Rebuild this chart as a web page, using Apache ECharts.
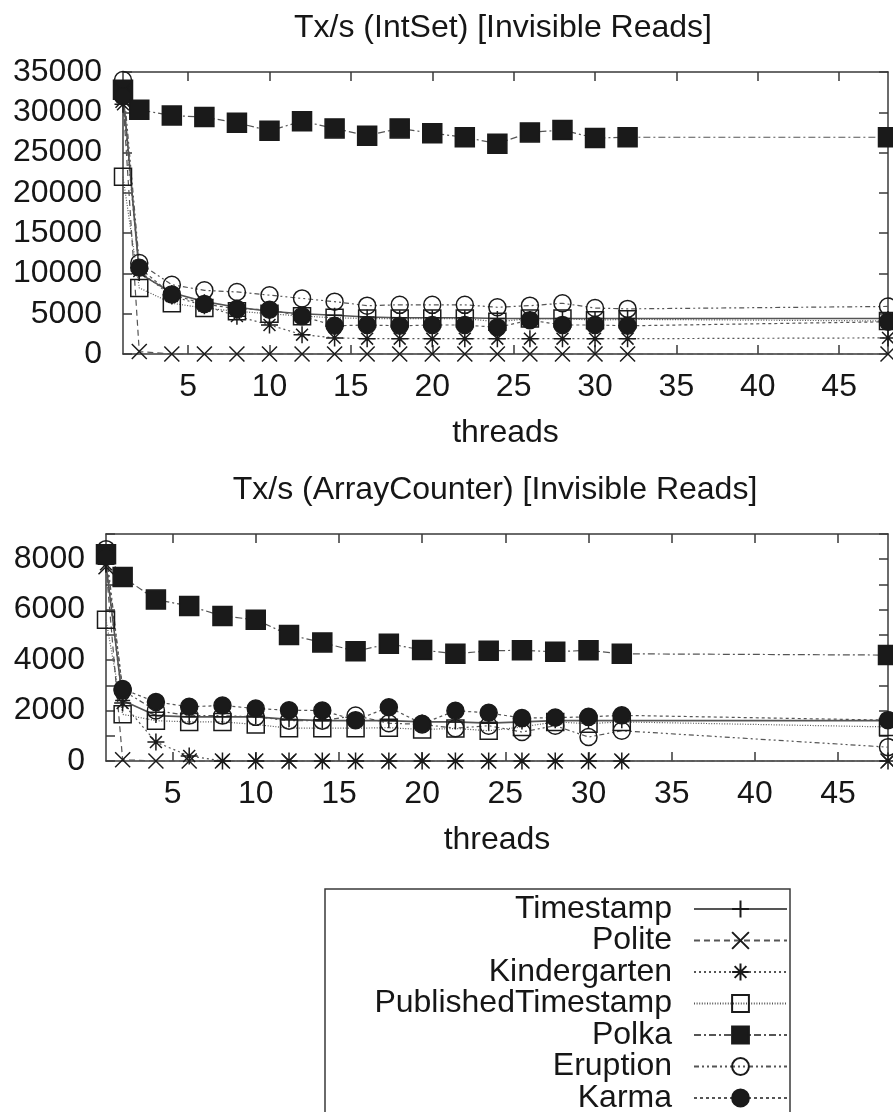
<!DOCTYPE html>
<html><head><meta charset="utf-8">
<script src="https://cdn.jsdelivr.net/npm/echarts@6/dist/echarts.min.js"></script>
<style>html,body{margin:0;padding:0;background:#fff}#c{width:893px;height:1112px}</style>
</head><body><div id="c"></div><script>
// ---------------- data ----------------
const threads = [1, 2, 4, 6, 8, 10, 12, 14, 16, 18, 20, 22, 24, 26, 28, 30, 32, 48];
const xTickValues = [5, 10, 15, 20, 25, 30, 35, 40, 45];
const seriesNames = ['Timestamp', 'Polite', 'Kindergarten', 'PublishedTimestamp', 'Polka', 'Eruption', 'Karma'];
const titleTop = 'Tx/s (IntSet) [Invisible Reads]';
const titleBottom = 'Tx/s (ArrayCounter) [Invisible Reads]';
const xAxisName = 'threads';
const yTicksBottomLabels = [0, 2000, 4000, 6000, 8000];

// IntSet (top panel)
const intsetTimestamp    = [32500, 10000, 7600, 6500, 5800, 5300, 5000, 4800, 4600, 4500, 4500, 4500, 4400, 4400, 4400, 4400, 4400, 4400];
const intsetPolite       = [31500, 300, 0, 0, 0, 0, 0, 0, 0, 0, 0, 0, 0, 0, 0, 0, 0, 0];
const intsetKindergarten = [31000, 10300, 7200, 6000, 4700, 3600, 2400, 2000, 1900, 1900, 1900, 1900, 1900, 1900, 1900, 1900, 1900, 2000];
const intsetPublished    = [22000, 8200, 6300, 5700, 5300, 5000, 4700, 4500, 4400, 4400, 4400, 4400, 4000, 4400, 4400, 4200, 4300, 4100];
const intsetPolka        = [32800, 30300, 29600, 29400, 28700, 27700, 28900, 28000, 27100, 28000, 27400, 26900, 26100, 27500, 27800, 26800, 26900, 26900];
const intsetEruption     = [34000, 11300, 8600, 7900, 7700, 7300, 6900, 6500, 6000, 6100, 6100, 6100, 5800, 6000, 6300, 5700, 5600, 5900];
const intsetKarma        = [32000, 10700, 7400, 6200, 5600, 5500, 4700, 3500, 3600, 3500, 3600, 3600, 3300, 4200, 3600, 3600, 3500, 4000];

// ArrayCounter (bottom panel)
const arrTimestamp    = [7800, 2400, 1800, 1750, 1750, 1750, 1650, 1600, 1600, 1600, 1550, 1550, 1500, 1550, 1600, 1600, 1600, 1600];
const arrPolite       = [7700, 50, 0, 0, 0, 0, 0, 0, 0, 0, 0, 0, 0, 0, 0, 0, 0, 0];
const arrKindergarten = [7800, 2300, 750, 200, 0, 0, 0, 0, 0, 0, 0, 0, 0, 0, 0, 0, 0, 0];
const arrPublished    = [5600, 1850, 1600, 1550, 1550, 1450, 1300, 1300, 1300, 1320, 1250, 1290, 1200, 1350, 1550, 1480, 1550, 1350];
const arrPolka        = [8200, 7300, 6400, 6150, 5750, 5600, 5000, 4700, 4350, 4650, 4400, 4250, 4370, 4390, 4330, 4390, 4250, 4200];
const arrEruption     = [8400, 2800, 2000, 1800, 1800, 1750, 1600, 1600, 1800, 1500, 1450, 1300, 1400, 1150, 1400, 950, 1200, 550];
const arrKarma        = [8100, 2850, 2340, 2150, 2200, 2080, 2010, 2000, 1620, 2130, 1480, 1990, 1910, 1700, 1720, 1750, 1810, 1620];

const topValues = [intsetTimestamp, intsetPolite, intsetKindergarten, intsetPublished, intsetPolka, intsetEruption, intsetKarma];
const bottomValues = [arrTimestamp, arrPolite, arrKindergarten, arrPublished, arrPolka, arrEruption, arrKarma];

// ---------------- styles ----------------
const FONT = 'Liberation Sans';
const TXT = '#161616';
const AX = '#3a3a3a';
const LINE = '#555';
const MARK = '#1a1a1a';
const FS = 32;

const styles = [
  { symbol: 'path://M5,0L5,10M0,5L10,5', size: 15, fill: 'transparent', dash: 'solid', w: 1.6 },
  { symbol: 'path://M0,0L10,10M0,10L10,0', size: 15, fill: 'transparent', dash: [6, 4], w: 1.2 },
  { symbol: 'path://M5,0L5,10M0,5L10,5M1.5,1.5L8.5,8.5M1.5,8.5L8.5,1.5', size: 17, fill: 'transparent', dash: [2, 3], w: 1.2 },
  { symbol: 'rect', size: 17, fill: 'transparent', dash: [1, 1.6], w: 1.2 },
  { symbol: 'rect', size: 19, fill: MARK, dash: [7, 3, 2, 3], w: 1.2 },
  { symbol: 'circle', size: 17, fill: 'transparent', dash: [5, 3, 2, 3, 2, 3], w: 1.2 },
  { symbol: 'circle', size: 17, fill: MARK, dash: [3, 3], w: 1.2 }
];

function makeSeries(values, axisIdx) {
  return seriesNames.map(function (name, i) {
    const st = styles[i];
    return {
      name: name,
      type: 'line',
      xAxisIndex: axisIdx,
      yAxisIndex: axisIdx,
      data: threads.map(function (t, k) { return [t, values[i][k]]; }),
      symbol: st.symbol,
      symbolSize: st.size,
      showAllSymbol: true,
      clip: false,
      lineStyle: { color: LINE, width: st.w, type: st.dash },
      itemStyle: { color: st.fill, borderColor: MARK, borderWidth: 1.5 },
      emphasis: { disabled: true },
      animation: false
    };
  });
}

const axisLineStyle = { color: AX, width: 1.5 };
const labelStyle = { fontSize: FS, fontFamily: FONT, color: TXT };
const plain = function (v) { return String(v); };

function xAxes(grid) {
  return [
    {
      gridIndex: grid, type: 'value', min: 1, max: 48, position: 'bottom',
      axisLine: { show: true, onZero: false, lineStyle: axisLineStyle },
      axisTick: { show: true, inside: true, length: 9, customValues: xTickValues, lineStyle: axisLineStyle },
      axisLabel: Object.assign({ customValues: xTickValues, margin: 17, formatter: plain }, labelStyle),
      splitLine: { show: false },
      name: xAxisName, nameLocation: 'middle', nameGap: 63,
      nameTextStyle: labelStyle
    },
    {
      gridIndex: grid, type: 'value', min: 1, max: 48, position: 'top',
      axisLine: { show: true, onZero: false, lineStyle: axisLineStyle },
      axisTick: { show: true, inside: true, length: 9, customValues: xTickValues, lineStyle: axisLineStyle },
      axisLabel: { show: false },
      splitLine: { show: false }
    }
  ];
}

function yAxes(grid, max, interval, labelValues) {
  const lbl = Object.assign({ margin: 21, formatter: plain }, labelStyle);
  if (labelValues) lbl.customValues = labelValues;
  return [
    {
      gridIndex: grid, type: 'value', min: 0, max: max, interval: interval, position: 'left',
      axisLine: { show: true, onZero: false, lineStyle: axisLineStyle },
      axisTick: { show: true, inside: true, length: 9, lineStyle: axisLineStyle },
      axisLabel: lbl,
      splitLine: { show: false }
    },
    {
      gridIndex: grid, type: 'value', min: 0, max: max, interval: interval, position: 'right',
      axisLine: { show: true, onZero: false, lineStyle: axisLineStyle },
      axisTick: { show: true, inside: true, length: 9, lineStyle: axisLineStyle },
      axisLabel: { show: false },
      splitLine: { show: false }
    }
  ];
}

const chart = echarts.init(document.getElementById('c'), null, { renderer: 'canvas' });
chart.setOption({
  backgroundColor: '#fff',
  animation: false,
  grid: [
    { left: 123, top: 72, width: 765, height: 282 },
    { left: 106, top: 534, width: 782, height: 227 }
  ],
  xAxis: xAxes(0).concat(xAxes(1)),
  yAxis: yAxes(0, 35000, 5000, null).concat(yAxes(1, 9000, 1000, yTicksBottomLabels)),
  legend: {
    orient: 'vertical', right: 105, top: 893, height: 300, align: 'right',
    itemWidth: 93, itemHeight: 21, itemGap: -0.5, padding: 0,
    selectedMode: false,
    data: seriesNames,
    textStyle: { fontSize: FS, fontFamily: FONT, color: TXT, padding: [0, 17, 0, 0], lineHeight: 30 }
  },
  graphic: [
    { type: 'text', x: 503, y: 28, style: { text: titleTop, fontSize: FS, fontFamily: FONT, fill: TXT, align: 'center', verticalAlign: 'middle' } },
    { type: 'text', x: 495, y: 490, style: { text: titleBottom, fontSize: FS, fontFamily: FONT, fill: TXT, align: 'center', verticalAlign: 'middle' } },
    { type: 'rect', z: -10, shape: { x: 325, y: 889, width: 465, height: 240 }, style: { fill: 'none', stroke: AX, lineWidth: 1.5 } }
  ],
  series: makeSeries(topValues, 0).concat(makeSeries(bottomValues, 2))
});
</script></body></html>
